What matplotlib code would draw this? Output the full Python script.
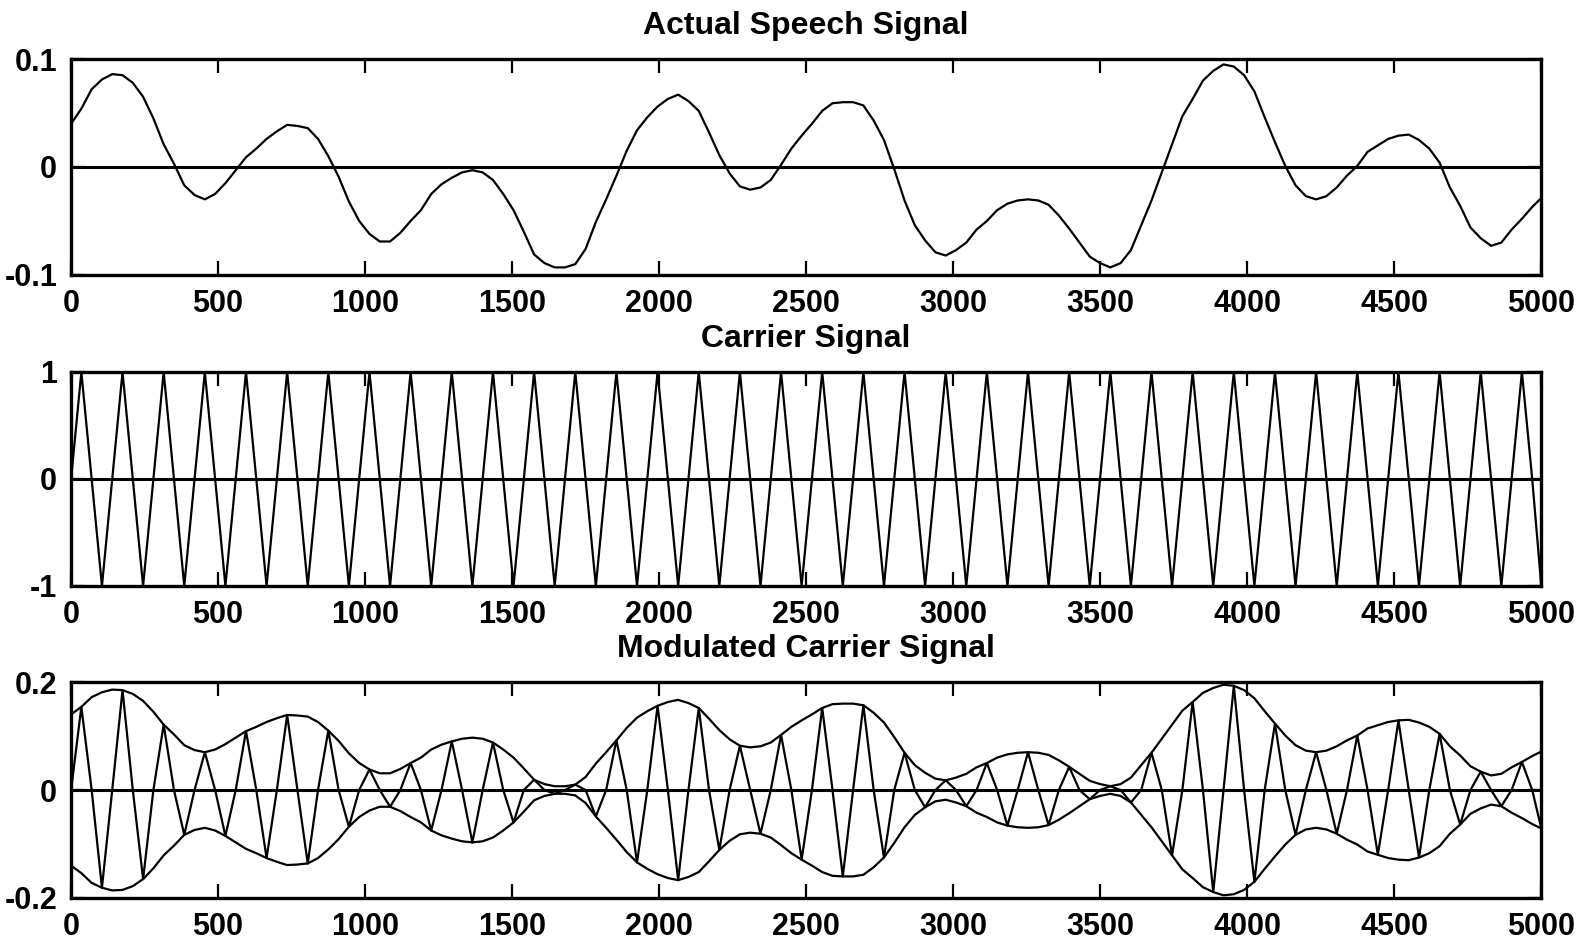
import matplotlib.pyplot as plt

plt.rcParams['font.family'] = ['Liberation Sans', 'DejaVu Sans']
plt.rcParams['font.weight'] = 'bold'

# readings taken every 35 samples (carrier zero / crest / zero / trough), plus the last sample
samples = list(range(0, 5000, 35)) + [5000]

# speech amplitude read at those samples
speech = [0.040, 0.054, 0.072, 0.081, 0.086, 0.085, 0.078, 0.065, 0.045, 0.021,
          0.003, -0.017, -0.026, -0.030, -0.025, -0.015, -0.003, 0.009, 0.017, 0.026,
          0.033, 0.039, 0.038, 0.036, 0.026, 0.010, -0.009, -0.032, -0.050, -0.062,
          -0.069, -0.069, -0.061, -0.050, -0.040, -0.025, -0.016, -0.010, -0.005, -0.003,
          -0.005, -0.012, -0.025, -0.040, -0.060, -0.081, -0.089, -0.093, -0.093, -0.090,
          -0.076, -0.051, -0.030, -0.008, 0.015, 0.034, 0.046, 0.056, 0.063, 0.067,
          0.061, 0.052, 0.032, 0.011, -0.006, -0.018, -0.021, -0.019, -0.012, 0.002,
          0.017, 0.029, 0.040, 0.052, 0.059, 0.060, 0.060, 0.057, 0.043, 0.025,
          -0.002, -0.031, -0.054, -0.068, -0.079, -0.082, -0.077, -0.070, -0.058, -0.050,
          -0.040, -0.034, -0.031, -0.030, -0.031, -0.035, -0.045, -0.057, -0.070, -0.083,
          -0.089, -0.093, -0.089, -0.077, -0.054, -0.031, -0.005, 0.021, 0.047, 0.063,
          0.080, 0.089, 0.095, 0.093, 0.085, 0.070, 0.046, 0.023, 0.001, -0.017,
          -0.027, -0.030, -0.027, -0.019, -0.008, 0.001, 0.014, 0.020, 0.026, 0.029,
          0.030, 0.025, 0.017, 0.004, -0.019, -0.036, -0.056, -0.066, -0.073, -0.070,
          -0.058, -0.048, -0.037, -0.029]

# carrier: zero, crest, zero, trough ... ending just before a trough
carrier = [0.0, 1.0, 0.0, -1.0] * 35 + [0.0, 1.0, 0.0, -0.97]
offset = 0.1  # dc added to the speech before modulating

xticks = [0, 500, 1000, 1500, 2000, 2500, 3000, 3500, 4000, 4500, 5000]
titles = ['Actual Speech Signal', 'Carrier Signal', 'Modulated Carrier Signal']
ylims = [0.1, 1, 0.2]
ylabels = [['-0.1', '0', '0.1'], ['-1', '0', '1'], ['-0.2', '0', '0.2']]

envelope = [offset + s for s in speech]
modulated = [e * c for e, c in zip(envelope, carrier)]

fig = plt.figure(figsize=(15.9, 9.41), dpi=100)
rects = [[0.0447, 0.7078, 0.9245, 0.2295],
         [0.0447, 0.3773, 0.9245, 0.2274],
         [0.0447, 0.0457, 0.9245, 0.2295]]
axes = [fig.add_axes(r) for r in rects]

axes[0].plot(samples, speech, color='k', lw=1.6)
axes[1].plot(samples, carrier, color='k', lw=1.6)
axes[2].plot(samples, modulated, color='k', lw=1.6)
axes[2].plot(samples, envelope, color='k', lw=1.6)
axes[2].plot(samples, [-e for e in envelope], color='k', lw=1.6)

for ax, title, lim, labs in zip(axes, titles, ylims, ylabels):
    ax.axhline(0, color='k', lw=2.2)
    ax.set_xlim(0, 5000)
    ax.set_ylim(-lim, lim)
    ax.set_xticks(xticks)
    ax.set_xticklabels([str(t) for t in xticks])
    ax.set_yticks([-lim, 0, lim])
    ax.set_yticklabels(labs)
    ax.set_title(title, fontsize=23, fontweight='bold', pad=18)
    ax.tick_params(direction='in', top=True, right=True, length=10, width=1.6,
                   labelsize=22, pad=10)
    for sp in ax.spines.values():
        sp.set_linewidth(2.4)

fig.savefig('out.png', dpi=100)
